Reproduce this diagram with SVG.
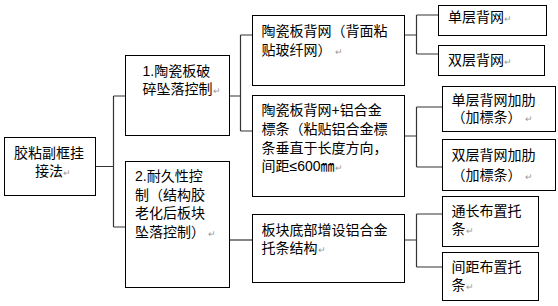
<svg xmlns="http://www.w3.org/2000/svg" width="558" height="306" viewBox="0 0 558 306">
<style>
.box{fill:#fff;stroke:#000;stroke-width:1}
.con{fill:none;stroke:#333;stroke-width:1.2}
text{font-family:"Liberation Sans","Noto Sans CJK SC",sans-serif;font-size:14px;fill:#000}
.rm{font-size:9px;fill:#999}
</style>
<rect width="558" height="306" fill="#fff"/>
<g id="connectors">
<path class="con" d="M96 166.5H113.5M113.5 96V227M113.5 96H125M113.5 227H125"/>
<path class="con" d="M229 96H240.5M240.5 35V131M240.5 35H252M240.5 131H252"/>
<path class="con" d="M404 35H416.5M416.5 15V54M416.5 15H438M416.5 54H438"/>
<path class="con" d="M404 136H416.5M416.5 107V167M416.5 107H442M416.5 167H442"/>
<path class="con" d="M229 240H252"/>
<path class="con" d="M404 240H416.5M416.5 214V267M416.5 214H442M416.5 267H442"/>
</g>
<g id="root">
<rect class="box" x="4.5" y="137.5" width="91" height="58"/>
<text x="14" y="158">胶粘副框挂</text>
<text x="35" y="176">接法<tspan class="rm">↵</tspan></text>
</g>
<g id="n1">
<rect class="box" x="125.5" y="55.5" width="104" height="80"/>
<text x="142.5" y="76">1.陶瓷板破</text>
<text x="142.5" y="94">碎坠落控制<tspan class="rm">↵</tspan></text>
</g>
<g id="n2">
<rect class="box" x="125.5" y="161.5" width="104" height="126"/>
<text x="135" y="181">2.耐久性控</text>
<text x="135" y="200">制（结构胶</text>
<text x="135" y="218">老化后板块</text>
<text x="135" y="237">坠落控制）<tspan class="rm" dx="3">↵</tspan></text>
</g>
<g id="nA">
<rect class="box" x="252.5" y="15.5" width="152" height="70"/>
<text x="261.5" y="36">陶瓷板背网（背面粘</text>
<text x="261.5" y="55">贴玻纤网）<tspan class="rm" dx="3">↵</tspan></text>
</g>
<g id="nB">
<rect class="box" x="252.5" y="95.5" width="152" height="101"/>
<text x="261.5" y="115">陶瓷板背网+铝合金</text>
<text x="261.5" y="134">標条（粘贴铝合金標</text>
<text x="261.5" y="153">条垂直于长度方向，</text>
<text x="261.5" y="171">间距≤600㎜<tspan class="rm">↵</tspan></text>
</g>
<g id="nC">
<rect class="box" x="252.5" y="214.5" width="152" height="68"/>
<text x="261.5" y="235">板块底部增设铝合金</text>
<text x="261.5" y="253">托条结构<tspan class="rm">↵</tspan></text>
</g>
<g id="nA1">
<rect class="box" x="438.5" y="5.5" width="108" height="30"/>
<text x="448" y="22">单层背网<tspan class="rm">↵</tspan></text>
</g>
<g id="nA2">
<rect class="box" x="438.5" y="45.5" width="106" height="30"/>
<text x="448" y="65">双层背网<tspan class="rm">↵</tspan></text>
</g>
<g id="nB1">
<rect class="box" x="442.5" y="86.5" width="113" height="45"/>
<text x="451.5" y="105">单层背网加肋</text>
<text x="451.5" y="122">（加標条）<tspan class="rm" dx="3">↵</tspan></text>
</g>
<g id="nB2">
<rect class="box" x="442.5" y="139.5" width="113" height="51"/>
<text x="451.5" y="160">双层背网加肋</text>
<text x="451.5" y="180">（加標条）<tspan class="rm" dx="3">↵</tspan></text>
</g>
<g id="nC1">
<rect class="box" x="442.5" y="196.5" width="96" height="50"/>
<text x="451.5" y="216">通长布置托</text>
<text x="451.5" y="234">条<tspan class="rm">↵</tspan></text>
</g>
<g id="nC2">
<rect class="box" x="442.5" y="252.5" width="96" height="48"/>
<text x="451.5" y="272">间距布置托</text>
<text x="451.5" y="290">条<tspan class="rm">↵</tspan></text>
</g>
</svg>
